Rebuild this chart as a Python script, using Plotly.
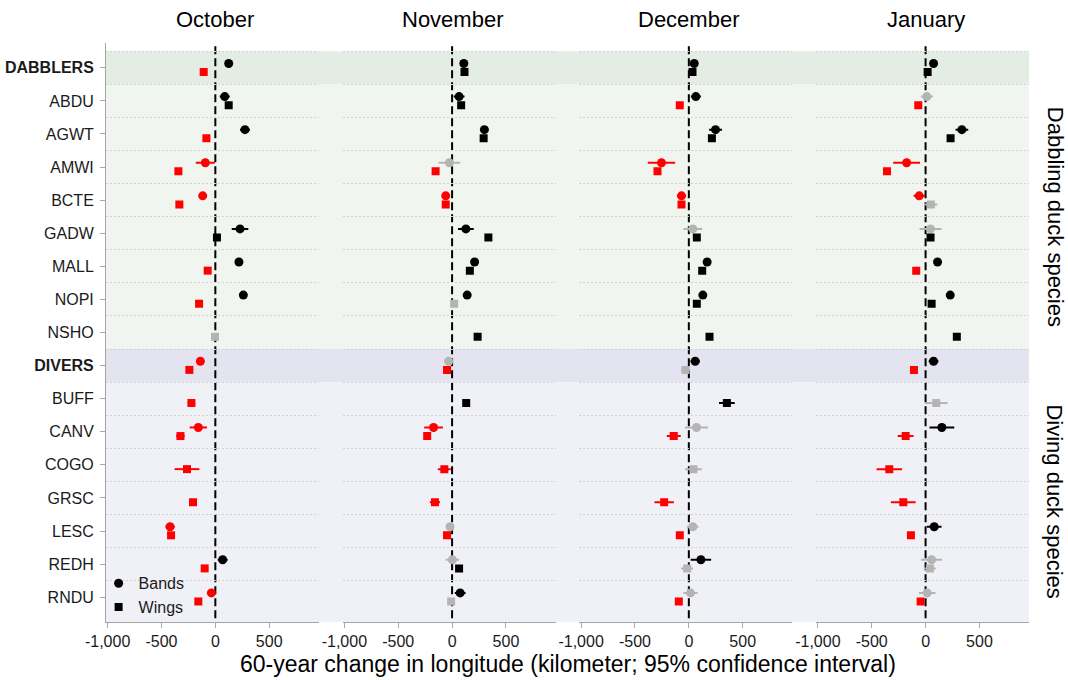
import plotly.graph_objects as go

species = ["DABBLERS", "ABDU", "AGWT", "AMWI", "BCTE", "GADW", "MALL", "NOPI", "NSHO",
           "DIVERS", "BUFF", "CANV", "COGO", "GRSC", "LESC", "REDH", "RNDU"]
months = ["October", "November", "December", "January"]
x_tick_vals = [-1000, -500, 0, 500]
x_tick_text = ["-1,000", "-500", "0", "500"]

# Bands (circles): estimate and 95% CI half-width, km
oct_bands = [124, 87, 275, -93, -117, 229, 219, 260, None, -139, None, -158, None, None, -420, 68, -37]
oct_bands_ci = [20, 46, 46, 88, 20, 77, 20, 25, None, 20, None, 80, None, None, 43, 46, 20]
nov_bands = [109, 65, 300, -25, -59, 128, 209, 140, None, -31, None, -172, None, None, -19, 3, 75]
nov_bands_ci = [20, 50, 35, 100, 20, 73, 20, 25, None, 40, None, 87, None, None, 30, 62, 50]
dec_bands = [50, 65, 248, -254, -68, 37, 170, 130, None, 59, None, 71, None, None, 37, 112, 16]
dec_bands_ci = [20, 46, 60, 127, 43, 87, 20, 25, None, 43, None, 108, None, None, 53, 95, 65]
jan_bands = [74, 12, 337, -176, -59, 46, 111, 229, None, 74, None, 151, None, None, 80, 56, 15]
jan_bands_ci = [20, 55, 59, 124, 53, 102, 20, 25, None, 45, None, 115, None, None, 68, 97, 77]

# Wings (squares): estimate and 95% CI half-width, km
oct_wings = [-108, 124, -83, -343, -334, 15, -71, -151, -3, -241, -222, -324, -263, -207, -411, -99, -158]
oct_wings_ci = [20, 20, 20, 20, 20, 10, 20, 20, 20, 20, 35, 40, 115, 35, 20, 20, 20]
nov_wings = [115, 84, 293, -153, -59, 337, 165, 19, 237, -47, 131, -231, -72, -159, -47, 65, -9]
nov_wings_ci = [20, 20, 20, 20, 20, 20, 20, 30, 20, 20, 20, 30, 60, 47, 20, 20, 20]
dec_wings = [34, -84, 214, -291, -68, 74, 124, 74, 192, -31, 353, -140, 43, -229, -84, -16, -93]
dec_wings_ci = [20, 20, 20, 20, 20, 20, 20, 20, 20, 40, 73, 65, 78, 90, 20, 55, 20]
jan_wings = [19, -68, 232, -358, 49, 46, -87, 56, 290, -108, 99, -185, -337, -207, -136, 40, -46]
jan_wings_ci = [12, 20, 20, 20, 60, 25, 20, 20, 20, 20, 105, 74, 118, 115, 20, 55, 20]

bands = [(oct_bands, oct_bands_ci), (nov_bands, nov_bands_ci), (dec_bands, dec_bands_ci), (jan_bands, jan_bands_ci)]
wings = [(oct_wings, oct_wings_ci), (nov_wings, nov_wings_ci), (dec_wings, dec_wings_ci), (jan_wings, jan_wings_ci)]

FONT = "Liberation Sans, Arial, sans-serif"
COL = {"pos": "#000000", "neg": "#ff0000", "ns": "#b4b4b4"}


def sig(v, e):
    if v - e > 0:
        return "pos"
    if v + e < 0:
        return "neg"
    return "ns"


fig = go.Figure()

W = 0.2305
G = (1 - 4 * W) / 3
domains = [[i * (W + G), i * (W + G) + W] for i in range(4)]

methods = [("Bands", bands, "circle", 9, -0.13), ("Wings", wings, "square", 8, 0.13)]
for p in range(4):
    xa = "x" if p == 0 else f"x{p + 1}"
    ya = "y" if p == 0 else f"y{p + 1}"
    for name, data, sym, size, off in methods:
        vals, cis = data[p]
        for key, color in COL.items():
            xs, ys, es = [], [], []
            for i, (v, e) in enumerate(zip(vals, cis)):
                if v is None:
                    continue
                if sig(v, e) != key:
                    continue
                xs.append(v)
                ys.append(i + off)
                es.append(e)
            if not xs:
                continue
            fig.add_trace(go.Scatter(
                x=xs, y=ys, mode="markers", xaxis=xa, yaxis=ya, showlegend=False,
                marker=dict(symbol=sym, size=size, color=color, line=dict(width=0)),
                error_x=dict(type="data", array=es, visible=True, color=color, thickness=2, width=0),
                hoverinfo="x+y",
            ))

# legend entries
fig.add_trace(go.Scatter(x=[None], y=[None], mode="markers", name="Bands",
                         marker=dict(symbol="circle", size=9, color="black")))
fig.add_trace(go.Scatter(x=[None], y=[None], mode="markers", name="Wings",
                         marker=dict(symbol="square", size=8, color="black")))

n = len(species)
yrange = [n - 1 + 0.75, -0.75]
ticktext = [f"<b>{s}</b>" if s in ("DABBLERS", "DIVERS") else s for s in species]
grid_vals = [i - 0.5 for i in range(n)]

layout_axes = {}
for p in range(4):
    xk = "xaxis" if p == 0 else f"xaxis{p + 1}"
    yk = "yaxis" if p == 0 else f"yaxis{p + 1}"
    layout_axes[xk] = dict(
        domain=domains[p], anchor="y" if p == 0 else f"y{p + 1}",
        range=[-1015, 960], tickvals=x_tick_vals, ticktext=x_tick_text,
        showline=True, linecolor="#a6a6a6", linewidth=1, ticks="outside", ticklen=5,
        tickcolor="#a6a6a6", showgrid=False, zeroline=False,
        tickfont=dict(size=16, color="#1a1a1a", family=FONT),
    )
    layout_axes[yk] = dict(
        domain=[0, 1], anchor="x" if p == 0 else f"x{p + 1}",
        range=yrange, tickvals=list(range(n)), ticktext=ticktext,
        showticklabels=(p == 0), showline=(p == 0), linecolor="#a6a6a6", linewidth=1,
        ticks="outside" if p == 0 else "", ticklen=5, tickcolor="#a6a6a6",
        ticklabelstandoff=3,
        showgrid=False, zeroline=False,
        tickfont=dict(size=16, color="#1a1a1a", family=FONT),
        minor=dict(tickvals=grid_vals, showgrid=True, gridcolor="#d2d2d2",
                   griddash="2px,2px", gridwidth=1, ticks=""),
    )

shapes = []
bands_bg = [(-0.5, 0.5, "#e4ede4"), (0.5, 8.5, "#f1f5f0"),
            (8.5, 9.5, "#e4e4f0"), (9.5, n - 1 + 0.75, "#f0f1f7")]
for y0, y1, c in bands_bg:
    shapes.append(dict(type="rect", xref="paper", yref="y", x0=0, x1=1, y0=y0, y1=y1,
                       fillcolor=c, line=dict(width=0), layer="below"))
for p in range(4):
    xa = "x" if p == 0 else f"x{p + 1}"
    ya = "y" if p == 0 else f"y{p + 1}"
    shapes.append(dict(type="line", xref=xa, yref=ya, x0=0, x1=0, y0=-0.65, y1=n - 1 + 0.75,
                       line=dict(color="black", width=2, dash="8px,4px"), layer="below"))

annotations = []
for p, m in enumerate(months):
    xa = "x" if p == 0 else f"x{p + 1}"
    annotations.append(dict(text=m, xref=xa, yref="paper", x=0, y=1, yanchor="bottom",
                            showarrow=False, yshift=9, font=dict(size=22, color="black", family=FONT)))
annotations.append(dict(text="60-year change in longitude (kilometer; 95% confidence interval)",
                        xref="paper", yref="paper", x=0.5, y=0, yanchor="top", showarrow=False,
                        yshift=-27, font=dict(size=23, color="black", family=FONT)))
annotations.append(dict(text="Dabbling duck species", xref="paper", yref="y", x=1.028, y=4.5,
                        xanchor="center", yanchor="middle",
                        textangle=90, showarrow=False, font=dict(size=22, color="black", family=FONT)))
annotations.append(dict(text="Diving duck species", xref="paper", yref="y", x=1.028, y=13.1,
                        xanchor="center", yanchor="middle",
                        textangle=90, showarrow=False, font=dict(size=22, color="black", family=FONT)))

fig.update_layout(
    width=1068, height=680,
    margin=dict(l=106, r=39, t=43, b=58, autoexpand=False),
    paper_bgcolor="white", plot_bgcolor="rgba(0,0,0,0)",
    font=dict(family=FONT, color="black"),
    shapes=shapes, annotations=annotations,
    legend=dict(x=-0.008, y=-0.004, xanchor="left", yanchor="bottom", bgcolor="rgba(0,0,0,0)",
                font=dict(size=16, family=FONT, color="#1a1a1a"), tracegroupgap=0),
    **layout_axes,
)

fig.write_html("out.html")
